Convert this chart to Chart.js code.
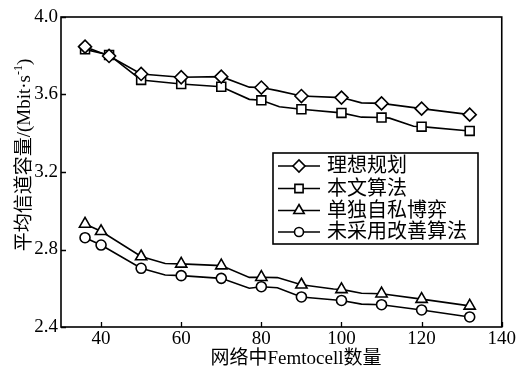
<!DOCTYPE html>
<html>
<head>
<meta charset="utf-8">
<script src="https://cdn.jsdelivr.net/npm/chart.js"></script>
<style>
  html, body { margin: 0; padding: 0; background: #fff; }
  canvas { display: block; }
</style>
</head>
<body>
<canvas id="c" width="517" height="372"></canvas>
<script>
// ---- data ----
const seriesNames = ['理想规划', '本文算法', '单独自私博弈', '未采用改善算法'];
const xTickValues = [40, 60, 80, 100, 120, 140];
const yTickValues = [2.4, 2.8, 3.2, 3.6, 4.0];
const xTitle = '网络中Femtocell数量';
const yTitleMain = '平均信道容量/(Mbit·s';
const yTitleSup = '-1';
const yTitleEnd = ')';

// marked samples
const idealX = [36, 42, 50, 60, 70, 80, 90, 100, 110, 120, 132];
const idealY = [3.847, 3.799, 3.706, 3.689, 3.692, 3.636, 3.592, 3.584, 3.554, 3.527, 3.496];
// unmarked vertices of the same curve
const idealBendX = [77, 84, 105];
const idealBendY = [3.638, 3.620, 3.557];

const oursX = [36, 42, 50, 60, 70, 80, 90, 100, 110, 120, 132];
const oursY = [3.833, 3.804, 3.675, 3.654, 3.640, 3.570, 3.524, 3.505, 3.481, 3.434, 3.412];
const oursBendX = [77, 84.5, 105, 112, 118];
const oursBendY = [3.575, 3.537, 3.483, 3.478, 3.436];

const selfishX = [36, 40, 50, 60, 70, 80, 90, 100, 110, 120, 132];
const selfishY = [2.932, 2.894, 2.764, 2.726, 2.717, 2.657, 2.618, 2.594, 2.572, 2.544, 2.509];
const selfishBendX = [56, 77, 84, 98, 105];
const selfishBendY = [2.728, 2.656, 2.655, 2.596, 2.574];

const plainX = [36, 40, 50, 60, 70, 80, 90, 100, 110, 120, 132];
const plainY = [2.861, 2.823, 2.703, 2.665, 2.651, 2.608, 2.555, 2.537, 2.515, 2.488, 2.452];
const plainBendX = [56, 77, 84, 105];
const plainBendY = [2.668, 2.600, 2.603, 2.518];

// ---- building datasets ----
const FONT_FAMILY = '"Liberation Serif", "Noto Sans CJK SC", serif';
const INK = '#000';

function pts(xs, ys) { return xs.map((x, i) => ({ x: x, y: ys[i] })); }
function curve(xs, ys, bx, by) {
  return pts(xs, ys).concat(pts(bx, by)).sort((a, b) => a.x - b.x);
}

const series = [
  { name: seriesNames[0], marks: pts(idealX, idealY),     line: curve(idealX, idealY, idealBendX, idealBendY),         style: 'rectRot',  r: 6.5 },
  { name: seriesNames[1], marks: pts(oursX, oursY),       line: curve(oursX, oursY, oursBendX, oursBendY),             style: 'rect',     r: 6.3 },
  { name: seriesNames[2], marks: pts(selfishX, selfishY), line: curve(selfishX, selfishY, selfishBendX, selfishBendY), style: 'triangle', r: 6.5 },
  { name: seriesNames[3], marks: pts(plainX, plainY),     line: curve(plainX, plainY, plainBendX, plainBendY),         style: 'circle',   r: 5 }
];

const datasets = [];
series.forEach(s => {
  datasets.push({
    label: s.name, data: s.line, showLine: true, tension: 0,
    borderColor: INK, borderWidth: 1.6, pointRadius: 0, pointHoverRadius: 0, order: 1
  });
  datasets.push({
    label: s.name + ' marks', data: s.marks, showLine: false,
    pointStyle: s.style, pointRadius: s.r, pointHoverRadius: s.r,
    pointBackgroundColor: '#fff', pointBorderColor: INK, pointBorderWidth: 1.6, order: 0
  });
});

function drawMarker(ctx, style, r, x, y) {
  ctx.save();
  ctx.fillStyle = '#fff';
  ctx.strokeStyle = INK;
  ctx.lineWidth = 1.6;
  if (Chart.helpers && Chart.helpers.drawPoint) {
    Chart.helpers.drawPoint(ctx, { pointStyle: style, radius: r, rotation: 0, borderWidth: 1.6 }, x, y);
  } else {
    ctx.beginPath();
    if (style === 'circle') ctx.arc(x, y, r, 0, Math.PI * 2);
    else if (style === 'rect') { const h = r * Math.SQRT1_2; ctx.rect(x - h, y - h, 2 * h, 2 * h); }
    else if (style === 'rectRot') { ctx.moveTo(x, y - r); ctx.lineTo(x + r, y); ctx.lineTo(x, y + r); ctx.lineTo(x - r, y); ctx.closePath(); }
    else { ctx.moveTo(x, y - r); ctx.lineTo(x + r * 0.866, y + r / 2); ctx.lineTo(x - r * 0.866, y + r / 2); ctx.closePath(); }
    ctx.fill(); ctx.stroke();
  }
  ctx.restore();
}

// frame, inward ticks, axis titles and legend box
const decorations = {
  id: 'decorations',
  afterDatasetsDraw(chart) {
    const { ctx, chartArea: a, scales } = chart;
    ctx.save();
    ctx.strokeStyle = INK;
    ctx.lineWidth = 1.6;
    ctx.strokeRect(a.left, a.top, a.right - a.left, a.bottom - a.top);

    ctx.lineWidth = 1.3;
    ctx.beginPath();
    xTickValues.forEach(v => {
      const px = Math.round(scales.x.getPixelForValue(v)) + 0.5;
      ctx.moveTo(px, a.bottom); ctx.lineTo(px, a.bottom - 5);
    });
    yTickValues.forEach(v => {
      const py = Math.round(scales.y.getPixelForValue(v)) + 0.5;
      ctx.moveTo(a.left, py); ctx.lineTo(a.left + 5, py);
    });
    ctx.stroke();

    // x title
    ctx.fillStyle = INK;
    ctx.font = '19px ' + FONT_FAMILY;
    ctx.textBaseline = 'middle';
    ctx.textAlign = 'center';
    ctx.fillText(xTitle, 296, 359);

    // y title, rotated, with superscript
    ctx.save();
    ctx.translate(25, 155);
    ctx.rotate(-Math.PI / 2);
    ctx.textAlign = 'left';
    const supFont = '12px ' + FONT_FAMILY;
    const mainFont = '19px ' + FONT_FAMILY;
    ctx.font = mainFont;
    const w1 = ctx.measureText(yTitleMain).width;
    const w3 = ctx.measureText(yTitleEnd).width;
    ctx.font = supFont;
    const w2 = ctx.measureText(yTitleSup).width;
    let x0 = -(w1 + w2 + w3) / 2;
    ctx.font = mainFont;
    ctx.fillText(yTitleMain, x0, 0);
    ctx.font = supFont;
    ctx.fillText(yTitleSup, x0 + w1, -6);
    ctx.font = mainFont;
    ctx.fillText(yTitleEnd, x0 + w1 + w2, 0);
    ctx.restore();

    // legend
    const box = { l: 273, t: 153, r: 478, b: 244 };
    ctx.lineWidth = 1.6;
    ctx.strokeRect(box.l, box.t, box.r - box.l, box.b - box.t);
    const rowsY = [166, 188.5, 210.5, 232];
    series.forEach((s, i) => {
      const y = rowsY[i];
      ctx.beginPath();
      ctx.lineWidth = 1.6;
      ctx.moveTo(278, y); ctx.lineTo(320, y);
      ctx.stroke();
      drawMarker(ctx, s.style, s.r - 0.5, 299, y);
      ctx.fillStyle = INK;
      ctx.font = '20px ' + FONT_FAMILY;
      ctx.textAlign = 'left';
      ctx.textBaseline = 'middle';
      ctx.fillText(s.name, 327, y + 1);
    });
    ctx.restore();
  }
};

const tickFont = { family: FONT_FAMILY, size: 19 };

new Chart(document.getElementById('c'), {
  type: 'scatter',
  data: { datasets: datasets },
  options: {
    responsive: false,
    animation: false,
    devicePixelRatio: 1,
    layout: { padding: { top: 17, right: 14, left: 0, bottom: 0 } },
    plugins: { legend: { display: false }, tooltip: { enabled: false } },
    scales: {
      x: {
        type: 'linear', min: 30, max: 140,
        afterBuildTicks: s => { s.ticks = xTickValues.map(v => ({ value: v })); },
        afterFit: s => { s.height = 45; },
        grid: { display: false, drawTicks: false },
        border: { display: false },
        ticks: { font: tickFont, color: INK, padding: 1, maxRotation: 0, autoSkip: false }
      },
      y: {
        type: 'linear', min: 2.4, max: 4.0,
        afterBuildTicks: s => { s.ticks = yTickValues.map(v => ({ value: v })); },
        afterFit: s => { s.width = 61; },
        grid: { display: false, drawTicks: false },
        border: { display: false },
        ticks: { font: tickFont, color: INK, padding: 3, autoSkip: false, callback: v => Number(v).toFixed(1) }
      }
    }
  },
  plugins: [decorations]
});
</script>
</body>
</html>
